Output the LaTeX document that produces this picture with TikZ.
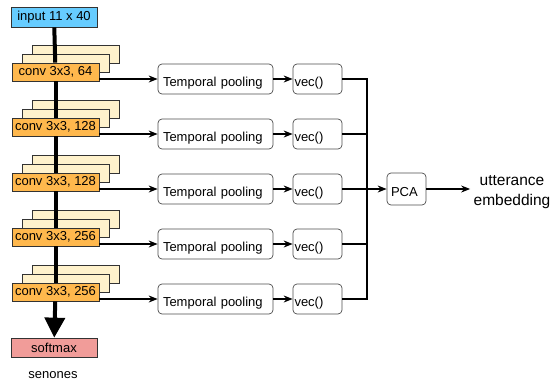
\documentclass[tikz,border=0pt]{standalone}
\usepackage{fontspec}
\setmainfont{Liberation Sans}
\usetikzlibrary{arrows.meta}

\definecolor{inblue}{HTML}{66CCFF}
\definecolor{convorange}{HTML}{FFB84D}
\definecolor{layeryellow}{HTML}{FFF2CC}
\definecolor{softpink}{HTML}{F19C99}

\tikzset{
	layer/.style={draw=black!80, fill=layeryellow, line width=0.7pt, minimum width=87pt, minimum height=18pt, inner sep=0pt},
	convbox/.style={draw=black!80, fill=convorange, line width=0.7pt, minimum width=87pt, minimum height=18pt, inner sep=0pt, font=\fontsize{13}{15}\selectfont},
	pbox/.style={draw=black!70, rounded corners=4pt, line width=0.7pt, minimum height=30pt, align=left, text height=14pt, text depth=0pt, font=\fontsize{13}{15}\selectfont},
	trunk/.style={line width=4pt},
	link/.style={line width=1.1pt, -{Stealth[length=9pt,width=7pt]}},
	bus/.style={line width=1.1pt}
}

\begin{document}
\begin{tikzpicture}[x=1pt, y=-1pt]
		%%%%% START %%%%%
		\useasboundingbox (0, 0) rectangle (556, 383);
		
		% input and output of the conv stack
		\node[draw=black!80, fill=inblue, line width=0.7pt, minimum width=86pt, minimum height=20pt, inner sep=0pt, font=\fontsize{13}{15}\selectfont] (input) at (54, 17) {input 11 x 40};
		\node[draw=black!80, fill=softpink, line width=0.7pt, minimum width=86pt, minimum height=19pt, inner sep=0pt, font=\fontsize{13}{15}\selectfont] (softmax) at (54, 347.5) {softmax};
		\node[font=\fontsize{13}{15}\selectfont] (senones) at (53, 375) {senones};
		
		% stacked feature maps behind each conv block
		\node[layer] (back1) at (75.5, 54) {};
		\node[layer] (mid1) at (65.5, 63) {};
		\node[layer] (back2) at (75.5, 109) {};
		\node[layer] (mid2) at (65.5, 118) {};
		\node[layer] (back3) at (75.5, 164) {};
		\node[layer] (mid3) at (65.5, 173) {};
		\node[layer] (back4) at (75.5, 219) {};
		\node[layer] (mid4) at (65.5, 228) {};
		\node[layer] (back5) at (75.5, 274) {};
		\node[layer] (mid5) at (65.5, 283) {};
		
		\node[convbox] (conv1) at (55.5, 72) {conv 3x3, 64};
		\node[convbox] (conv2) at (55.5, 127) {conv 3x3, 128};
		\node[convbox] (conv3) at (55.5, 182) {conv 3x3, 128};
		\node[convbox] (conv4) at (55.5, 237) {conv 3x3, 256};
		\node[convbox] (conv5) at (55.5, 292) {conv 3x3, 256};
		
		% main path through the network
		\draw[trunk] (input) -- (conv1);
		\draw[trunk] (conv1) -- (conv2);
		\draw[trunk] (conv2) -- (conv3);
		\draw[trunk] (conv3) -- (conv4);
		\draw[trunk] (conv4) -- (conv5);
		\draw[trunk, -{Triangle[length=20pt,width=20pt]}] (conv5) -- (softmax);
		
		% pooling branches
		\node[pbox, text width=105pt, inner xsep=5pt] (pool1) at (215.5, 79) {Temporal pooling};
		\node[pbox, text width=105pt, inner xsep=5pt] (pool2) at (215.5, 134) {Temporal pooling};
		\node[pbox, text width=105pt, inner xsep=5pt] (pool3) at (215.5, 189) {Temporal pooling};
		\node[pbox, text width=105pt, inner xsep=5pt] (pool4) at (215.5, 244) {Temporal pooling};
		\node[pbox, text width=105pt, inner xsep=5pt] (pool5) at (215.5, 299) {Temporal pooling};
		
		\node[pbox, text width=46pt, inner xsep=1.5pt] (vec1) at (317.5, 79) {vec()};
		\node[pbox, text width=46pt, inner xsep=1.5pt] (vec2) at (317.5, 134) {vec()};
		\node[pbox, text width=46pt, inner xsep=1.5pt] (vec3) at (317.5, 189) {vec()};
		\node[pbox, text width=46pt, inner xsep=1.5pt] (vec4) at (317.5, 244) {vec()};
		\node[pbox, text width=46pt, inner xsep=1.5pt] (vec5) at (317.5, 299) {vec()};
		
		\draw[link] (conv1.east |- pool1) -- (pool1);
		\draw[link] (conv2.east |- pool2) -- (pool2);
		\draw[link] (conv3.east |- pool3) -- (pool3);
		\draw[link] (conv4.east |- pool4) -- (pool4);
		\draw[link] (conv5.east |- pool5) -- (pool5);
		
		\draw[link] (pool1) -- (vec1);
		\draw[link] (pool2) -- (vec2);
		\draw[link] (pool3) -- (vec3);
		\draw[link] (pool4) -- (vec4);
		\draw[link] (pool5) -- (vec5);
		
		% collecting bus and PCA
		\coordinate (bustop) at (367, 79);
		\coordinate (busbot) at (367, 299);
		\draw[bus] (vec1) -- (bustop) -- (busbot) -- (vec5);
		\draw[bus] (vec2) -- (vec2 -| bustop);
		\draw[bus] (vec4) -- (vec4 -| bustop);
		
		\node[pbox, text width=31pt, inner xsep=4pt, minimum height=32pt] (pca) at (406.5, 189) {PCA};
		\draw[link] (vec3.east -| bustop) -- (pca);
		\draw[bus] (vec3) -- (vec3 -| bustop);
		
		\node[align=center, font=\fontsize{15.5}{20}\selectfont] (embed) at (512, 192) {utterance\\embedding};
		\draw[link] (pca) -- (embed.west |- pca);
		
		%%%%% END %%%%%
	\end{tikzpicture}
\end{document}
